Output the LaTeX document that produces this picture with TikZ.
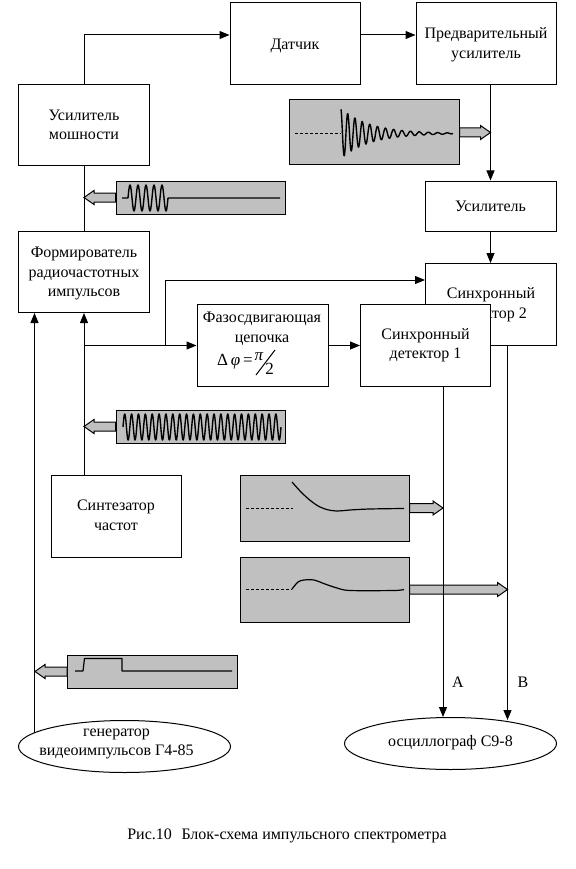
\documentclass[tikz,border=0pt]{standalone}
\usepackage{fontspec}
\setmainfont{Liberation Serif}
\usetikzlibrary{arrows.meta,shapes.geometric,calc}
\tikzset{
  x=1pt,y=-1pt,
  wire/.style={line width=1pt,black},
  arr/.style={wire,-{Triangle[length=10pt,width=8pt]}},
  blockbox/.style={draw=black,line width=1pt,fill=white,rectangle,inner sep=0pt,align=center,font=\fontsize{16}{19.5}\selectfont},
  ovalbox/.style={blockbox,ellipse},
  wavebox/.style={draw=black,line width=1pt,fill=wavegray,rectangle,inner sep=0pt},
  blk/.style={draw=black,line width=1pt,fill=wavegray,line join=miter},
  trace/.style={black,line width=1.2pt,line join=round},
  dashtrace/.style={black,line width=1pt,dash pattern=on 3pt off 2pt},
  lbl/.style={inner sep=0pt,font=\fontsize{16}{19.5}\selectfont},
  declare function={decayamp(\u)=exp(-\u);}
}
\definecolor{wavegray}{RGB}{192,192,192}
\newcommand\blockarr[3]{%
  \draw[blk] let \p1=(#1),\p2=(#2) in
    (\x1,\y1+4.5pt) -- (\x2-#3*10pt,\y1+4.5pt) -- (\x2-#3*10pt,\y1+7pt) -- (\x2,\y1)
    -- (\x2-#3*10pt,\y1-7pt) -- (\x2-#3*10pt,\y1-4.5pt) -- (\x1,\y1-4.5pt) -- cycle;}
\newcommand\tb[2]{\raisebox{#1}[\height][\depth]{\begin{tabular}{@{}c@{}}#2\end{tabular}}}
\begin{document}
\begin{tikzpicture}
\useasboundingbox (0,0) rectangle (575,869);
\fill[white] (0,0) rectangle (575,869);
% blocks
\node[blockbox,minimum width=130pt,minimum height=82pt] (sensor) at (295,43.5) {\tb{-2.5pt}{Датчик}};
\node[blockbox,minimum width=140pt,minimum height=82pt] (preamp) at (486,43.5) {\tb{-1pt}{Предварительный\\усилитель}};
\node[blockbox,minimum width=131pt,minimum height=81pt] (power) at (84,125) {\tb{-1pt}{Усилитель\\мошности}};
\node[blockbox,minimum width=131pt,minimum height=50pt] (amp) at (490.5,206) {\tb{-2pt}{Усилитель}};
\node[blockbox,minimum width=131pt,minimum height=81pt] (former) at (84,272) {\tb{-1.5pt}{Формирователь\\радиочастотных\\импульсов}};
\node[blockbox,minimum width=131pt,minimum height=82pt] (det2) at (491,304.5) {\tb{0pt}{Синхронный\\детектор 2}};
\node[blockbox,minimum width=131pt,minimum height=82pt] (phase) at (262.5,345.5) {};
\node[blockbox,minimum width=130pt,minimum height=82pt] (det1) at (425.5,345.5) {\tb{0.5pt}{Синхронный\\детектор 1}};
\node[lbl,align=center] (phasetext) at (262,329) {Фазосдвигающая\\цепочка};
\node[lbl,anchor=west,font=\fontsize{17}{17}\selectfont] (dphi) at (217,362) {Δ\,\textit{φ}\,=};
\node[lbl,font=\fontsize{17}{17}\selectfont\itshape] (pival) at (259,357) {π};
\node[lbl,font=\fontsize{17}{17}\selectfont] (twoval) at (269.5,369) {2};
\coordinate (slashA) at (256,375);
\coordinate (slashB) at (275,350);
\draw[wire] (slashA) -- (slashB);
\node[blockbox,minimum width=130pt,minimum height=82pt] (synth) at (116,516) {\tb{-0.5pt}{Синтезатор\\частот}};
\node[ovalbox,minimum width=212pt,minimum height=52pt] (gen) at (124.5,746.5) {};
\node[lbl,align=center] (gentext) at (116.5,744) {генератор\\видеоимпульсов Г4-85};
\node[ovalbox,minimum width=212pt,minimum height=52pt] (scope) at (450.5,743.5) {\tb{1pt}{осциллограф С9-8}};
% wave boxes
\node[wavebox,minimum width=170pt,minimum height=65pt] (w1) at (374,132.5) {};
\node[wavebox,minimum width=169pt,minimum height=33pt] (w2) at (200.5,197.5) {};
\node[wavebox,minimum width=169pt,minimum height=33pt] (w3) at (200.5,426.5) {};
\node[wavebox,minimum width=169pt,minimum height=66pt] (w4) at (324.5,508) {};
\node[wavebox,minimum width=169pt,minimum height=65pt] (w5) at (324.5,589.5) {};
\node[wavebox,minimum width=170pt,minimum height=33pt] (w6) at (152.5,671.5) {};
% block arrows
\coordinate (t1) at (490.5,133);
\coordinate (t2) at (84,198);
\coordinate (t3) at (84,427);
\coordinate (t4) at (443,508);
\coordinate (t5) at (507.5,590);
\coordinate (t6) at (35,672);
\blockarr{w1.east}{t1}{1}
\blockarr{w2.west}{t2}{-1}
\blockarr{w3.west}{t3}{-1}
\blockarr{w4.east}{t4}{1}
\blockarr{w5.east}{t5}{1}
\blockarr{w6.west}{t6}{-1}
% traces
\draw[dashtrace] (295,133.5) -- (341,133.5);
\draw[trace,line width=1.4pt] plot[domain=341:451,samples=400] (\x,{133.5-25*decayamp((\x-341)/29)*sin((\x-339)/(6.9+(\x-341)*0.012)*360)}) -- (453,133.5);
\draw[trace,line width=1.4pt] (122,198) -- (128,198) plot[domain=128:168,samples=120] (\x,{198-13*sin((\x-128)/8*360)}) -- (280,198);
\draw[trace,line width=1.4pt] plot[domain=123:281,samples=500] (\x,{427-13*sin((\x-123)/6.87*360)});
\draw[dashtrace] (246,508.5) -- (293,508.5);
\draw[trace] plot[smooth,tension=.6] coordinates {(292,482) (303,494) (315,504) (325,509) (337,511) (350,510) (370,509) (404,508.5)};
\draw[dashtrace] (246,589.5) -- (292,589.5);
\draw[trace] plot[smooth,tension=.5] coordinates {(292,589) (298,582) (304,580) (314,580) (325,584) (337,588) (350,590.5) (394,590.5) (404,589.5)};
\draw[trace] (75,671) -- (83,671) -- (84.5,658.5) -- (122,658.5) -- (122,671) -- (232,671);
% connectors
\coordinate (c1) at (84,35);
\coordinate (c2) at (84,345.5);
\coordinate (c3) at (165.5,345.5);
\coordinate (c4) at (165.5,280);
\draw[arr] (power.north) -- (c1) -- (c1 -| sensor.west);
\draw[arr] (sensor.east |- c1) -- (c1 -| preamp.west);
\draw[arr] (preamp.south -| t1) -- (amp.north -| t1);
\draw[arr] (amp.south -| t1) -- (det2.north -| t1);
\draw[wire] (power.south) -- (former.north);
\draw[arr] (synth.north -| c1) -- (former.south -| c1);
\draw[arr] (c2) -- (phase.west);
\draw[arr] (phase.east) -- (det1.west);
\draw[wire] (c3) -- (c4);
\draw[arr] (c4) -- (c4 -| det2.west);
\draw[arr] (det1.south -| t4) -- (t4 |- scope.north);
\draw[arr] (det2.south -| t5) -- ($(t5 |- scope.north)+(0,3)$);
\node[lbl] (labA) at (458,682.5) {А};
\node[lbl] (labB) at (523,682.5) {В};
\coordinate (g1) at (34.5,733);
\draw[arr] (g1) -- (g1 |- former.south);
\node[lbl] (caption) at (287,836) {Рис.10\hspace{0.6em}Блок-схема импульсного спектрометра};
\end{tikzpicture}
\end{document}
